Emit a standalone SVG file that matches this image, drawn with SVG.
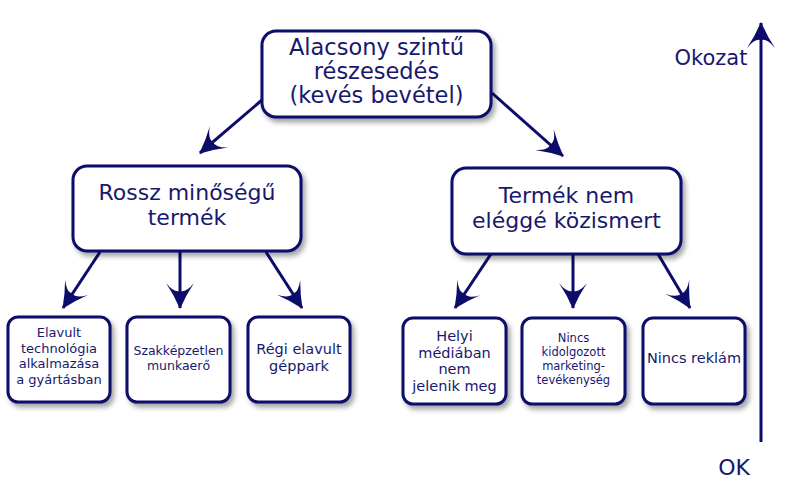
<svg xmlns="http://www.w3.org/2000/svg" width="788" height="481" viewBox="0 0 788 481">
<style>
.box{fill:#ffffff;stroke:#0c0c6a;stroke-width:3;filter:url(#sh)}
.t{font-family:"DejaVu Sans",Verdana,sans-serif;fill:#18186e;text-anchor:middle}
.c{stroke:#0c0c6a;stroke-width:3;fill:none;marker-end:url(#ah)}
</style>
<defs>
<filter id="sh" x="-10%" y="-10%" width="130%" height="130%">
<feDropShadow dx="3" dy="4" stdDeviation="2.5" flood-color="#000000" flood-opacity="0.35"/>
</filter>
<marker id="ah" viewBox="0 0 26 28" refX="25" refY="14" markerWidth="26" markerHeight="28" markerUnits="userSpaceOnUse" orient="auto">
<path d="M26,14 Q12,8 0,0 Q10,8 8,14 Q10,20 0,28 Q12,20 26,14 Z" fill="#0c0c6a"/>
</marker>
</defs>
<rect width="788" height="481" fill="#ffffff"/>
<g id="connectors">
<line class="c" x1="262" y1="100" x2="200" y2="153"/>
<line class="c" x1="492" y1="93" x2="563" y2="156"/>
<line class="c" x1="100" y1="252" x2="63" y2="308"/>
<line class="c" x1="180" y1="252" x2="180" y2="308"/>
<line class="c" x1="266" y1="252" x2="302" y2="308"/>
<line class="c" x1="491" y1="254" x2="455" y2="308"/>
<line class="c" x1="573" y1="254" x2="573" y2="308"/>
<line class="c" x1="658" y1="254" x2="690" y2="308"/>
<line class="c" x1="761" y1="442" x2="761" y2="23"/>
</g>
<g id="top">
<rect class="box" x="262" y="31" width="229" height="86" rx="14"/>
<text class="t" font-size="22.5" x="376.5" y="55">Alacsony szintű</text>
<text class="t" font-size="22.5" x="376.5" y="79">részesedés</text>
<text class="t" font-size="22.5" x="376.5" y="103">(kevés bevétel)</text>
</g>
<g id="rossz">
<rect class="box" x="73" y="166" width="228" height="85" rx="14"/>
<text class="t" font-size="22" x="187" y="200">Rossz minőségű</text>
<text class="t" font-size="22" x="187" y="225">termék</text>
</g>
<g id="termek">
<rect class="box" x="452" y="168" width="229" height="86" rx="14"/>
<text class="t" font-size="22" x="566.5" y="203">Termék nem</text>
<text class="t" font-size="22" x="566.5" y="228">eléggé közismert</text>
</g>
<g id="b1">
<rect class="box" x="8" y="317" width="102" height="85" rx="10"/>
<text class="t" font-size="13" x="59" y="337">Elavult</text>
<text class="t" font-size="13" x="59" y="352.5">technológia</text>
<text class="t" font-size="13" x="59" y="368">alkalmazása</text>
<text class="t" font-size="13" x="59" y="383.5">a gyártásban</text>
</g>
<g id="b2">
<rect class="box" x="127" y="317" width="103" height="85" rx="10"/>
<text class="t" font-size="12.5" x="178.5" y="355">Szakképzetlen</text>
<text class="t" font-size="12.5" x="178.5" y="370">munkaerő</text>
</g>
<g id="b3">
<rect class="box" x="248" y="317" width="102" height="85" rx="10"/>
<text class="t" font-size="14.5" x="299" y="354">Régi elavult</text>
<text class="t" font-size="14.5" x="299" y="371">géppark</text>
</g>
<g id="b4">
<rect class="box" x="403" y="318" width="103" height="86" rx="10"/>
<text class="t" font-size="14.5" x="454.5" y="341">Helyi</text>
<text class="t" font-size="14.5" x="454.5" y="357.5">médiában</text>
<text class="t" font-size="14.5" x="454.5" y="374">nem</text>
<text class="t" font-size="14.5" x="454.5" y="390.5">jelenik meg</text>
</g>
<g id="b5">
<rect class="box" x="522" y="318" width="103" height="86" rx="10"/>
<text class="t" font-size="11.5" x="573.5" y="342">Nincs</text>
<text class="t" font-size="11.5" x="573.5" y="356">kidolgozott</text>
<text class="t" font-size="11.5" x="573.5" y="370">marketing-</text>
<text class="t" font-size="11.5" x="573.5" y="384">tevékenység</text>
</g>
<g id="b6">
<rect class="box" x="643" y="318" width="102" height="86" rx="10"/>
<text class="t" font-size="14.5" x="694" y="363">Nincs reklám</text>
</g>
<g id="axis-labels">
<text class="t" font-size="21" x="711" y="65">Okozat</text>
<text class="t" font-size="22" x="734" y="475">OK</text>
</g>
</svg>
